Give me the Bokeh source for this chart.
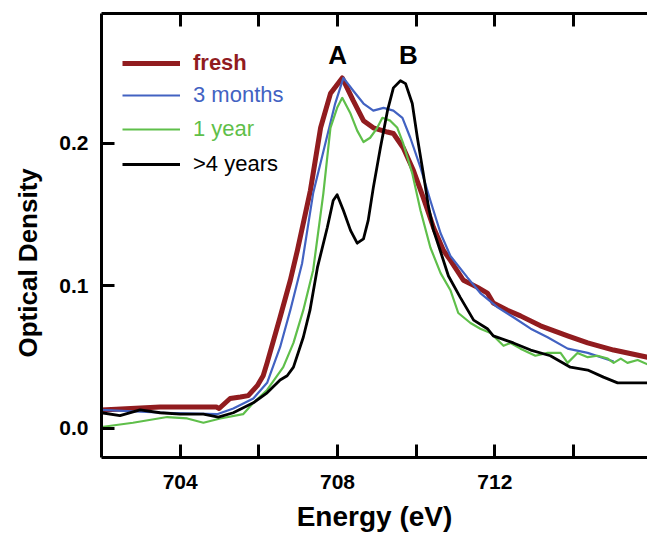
from bokeh.plotting import figure
from bokeh.models import (Range1d, FixedTicker, LinearAxis, Legend, LegendItem,
                          Label, Title, PrintfTickFormatter, CustomLabelingPolicy)
from bokeh.embed import file_html
from bokeh.resources import INLINE

# ---- data ----
fresh_ev = [702.0, 703.49, 704.92, 704.99, 705.27, 705.53, 705.73, 705.96, 706.11, 706.21,
            706.54, 706.80, 706.98, 707.31, 707.57, 707.82, 708.12, 708.40, 708.66, 708.91,
            709.27, 709.42, 709.67, 709.93, 710.18, 710.44, 710.69, 710.87, 711.20, 711.56,
            711.81, 711.96, 712.32, 712.65, 713.16, 713.85, 714.36, 715.02, 715.88]
fresh_od = [0.013, 0.015, 0.015, 0.014, 0.021, 0.022, 0.023, 0.030, 0.037, 0.046,
            0.078, 0.104, 0.125, 0.167, 0.211, 0.235, 0.246, 0.230, 0.216, 0.211,
            0.208, 0.207, 0.197, 0.181, 0.162, 0.141, 0.125, 0.118, 0.104, 0.099,
            0.095, 0.088, 0.083, 0.079, 0.072, 0.065, 0.060, 0.055, 0.050]

months3_ev = [702.0, 703.57, 704.94, 705.35, 705.86, 706.21, 706.54, 706.80, 707.10, 707.38,
              707.69, 707.94, 708.15, 708.40, 708.66, 708.91, 709.17, 709.42, 709.65, 709.85,
              710.11, 710.36, 710.62, 710.87, 711.30, 711.63, 712.07, 712.47, 712.91, 713.34,
              713.85, 714.36, 715.02]
months3_od = [0.013, 0.011, 0.010, 0.014, 0.021, 0.032, 0.057, 0.083, 0.116, 0.165,
              0.200, 0.228, 0.246, 0.237, 0.228, 0.223, 0.225, 0.223, 0.218, 0.204,
              0.183, 0.160, 0.137, 0.121, 0.106, 0.095, 0.085, 0.078, 0.070, 0.064,
              0.056, 0.053, 0.047]

year1_ev = [702.0, 702.80, 703.67, 704.18, 704.59, 705.02, 705.60, 705.86, 706.21, 706.62,
            706.88, 707.13, 707.38, 707.64, 707.82, 707.99, 708.12, 708.33, 708.50, 708.66,
            708.83, 709.01, 709.14, 709.34, 709.52, 709.67, 709.90, 710.11, 710.36, 710.62,
            710.87, 711.07, 711.38, 711.63, 711.89, 712.22, 712.40, 712.65, 713.03, 713.34,
            713.67, 713.85, 714.10, 714.36, 714.61, 714.87, 715.02, 715.20, 715.37, 715.63,
            715.88]
year1_od = [0.001, 0.004, 0.008, 0.007, 0.004, 0.007, 0.010, 0.018, 0.027, 0.043,
            0.060, 0.083, 0.111, 0.165, 0.211, 0.225, 0.232, 0.221, 0.209, 0.201,
            0.204, 0.211, 0.218, 0.216, 0.211, 0.200, 0.179, 0.153, 0.127, 0.109,
            0.097, 0.081, 0.074, 0.070, 0.067, 0.058, 0.060, 0.056, 0.051, 0.053,
            0.053, 0.046, 0.053, 0.050, 0.051, 0.049, 0.046, 0.049, 0.046, 0.048,
            0.045]

years4_ev = [702.0, 702.47, 702.98, 703.49, 704.0, 704.59, 704.97, 705.35, 705.86, 706.21,
             706.54, 706.72, 706.88, 707.13, 707.30, 707.49, 707.74, 707.89, 707.99, 708.15,
             708.33, 708.50, 708.66, 708.78, 708.91, 709.09, 709.27, 709.42, 709.60, 709.73,
             709.90, 710.03, 710.18, 710.31, 710.44, 710.62, 710.82, 711.12, 711.46, 711.81,
             711.96, 712.47, 712.91, 713.41, 713.92, 714.36, 714.76, 715.12, 715.88]
years4_od = [0.011, 0.009, 0.013, 0.011, 0.010, 0.010, 0.008, 0.011, 0.018, 0.025,
             0.034, 0.037, 0.043, 0.064, 0.083, 0.113, 0.141, 0.160, 0.164, 0.153,
             0.139, 0.130, 0.133, 0.146, 0.169, 0.197, 0.223, 0.239, 0.244, 0.242,
             0.228, 0.204, 0.179, 0.156, 0.139, 0.124, 0.107, 0.092, 0.076, 0.070,
             0.065, 0.060, 0.055, 0.051, 0.043, 0.041, 0.036, 0.032, 0.032]

series_labels = ["fresh", "3 months", "1 year", ">4 years"]
x_ticks = [704, 708, 712]
x_minor_ticks = [706, 710, 714]
y_ticks = [0.0, 0.1, 0.2]
peak_labels = ["A", "B"]
peak_ev = [708.0, 709.8]
peak_od = [0.262, 0.262]
x_title = "Energy (eV)"
y_title = "Optical Density"

# ---- styles ----
FONT = "Liberation Sans"
colors = ["#911c1f", "#4262c2", "#5fbf4a", "#000000"]
widths = [5, 2.2, 2.2, 2.8]

p = figure(width=647, height=536, output_backend="svg", toolbar_location=None,
           x_range=Range1d(702.0, 715.88), y_range=Range1d(-0.0204, 0.2912),
           min_border_left=101, min_border_right=0, min_border_top=13, min_border_bottom=79,
           background_fill_color="white", border_fill_color="white")
p.outline_line_color = None
p.xgrid.visible = False
p.ygrid.visible = False

renderers = []
for xs, ys, c, w in zip([fresh_ev, months3_ev, year1_ev, years4_ev],
                        [fresh_od, months3_od, year1_od, years4_od], colors, widths):
    renderers.append(p.line(xs, ys, line_color=c, line_width=w, line_join="round"))

xt = LinearAxis()
p.add_layout(xt, "above")

xb = p.below[0]
yl = p.left[0]

for ax in [xb, xt]:
    ax.ticker = FixedTicker(ticks=x_ticks, minor_ticks=x_minor_ticks)
for ax in [xb, xt, yl]:
    ax.axis_line_width = 3
    ax.axis_line_color = "black"
    ax.major_tick_line_width = 3
    ax.minor_tick_line_width = 3
    ax.major_tick_in = 13
    ax.major_tick_out = 0
    ax.minor_tick_in = 13
    ax.minor_tick_out = 0
    ax.major_label_text_font = FONT
    ax.major_label_text_font_style = "bold"
    ax.major_label_text_font_size = "21px"
    ax.major_label_text_color = "black"
    ax.axis_label_text_font = FONT
    ax.axis_label_text_font_style = "bold"
    ax.axis_label_text_color = "black"

# top axis: frame line and inward ticks only, no labels drawn
no_labels = CustomLabelingPolicy(
    code="for (const i of Array.from(indices)) { indices.unset(i) } return indices")
xt.major_label_text_font_size = "1px"
xt.major_label_standoff = 0
xt.major_label_policy = no_labels

yl.ticker = FixedTicker(ticks=y_ticks, minor_ticks=[])
yl.formatter = PrintfTickFormatter(format="%.1f")
yl.major_label_standoff = 13

xb.major_label_standoff = 17
xb.axis_label = x_title
xb.axis_label_text_font_size = "28px"
xb.axis_label_standoff = 9

# y title: a left-side title (sits below the frame centre and near the outer edge, as in the reference)
p.add_layout(Title(text=y_title, align="left", offset=100, standoff=24,
                   vertical_align="top",
                   text_font=FONT, text_font_style="bold", text_font_size="26px",
                   text_color="black"), "left")

# legend: one block per entry so each label keeps its own colour
legend_y = [381, 349, 315, 280]
styles = ["bold", "normal", "normal", "normal"]
for r, lab, c, st, vy in zip(renderers, series_labels, colors, styles, legend_y):
    lg = Legend(items=[LegendItem(label=lab, renderers=[r])], location=(21, vy),
                glyph_width=58, glyph_height=26, label_height=26, label_standoff=13,
                padding=0, margin=0, spacing=0, border_line_color=None,
                background_fill_alpha=0, label_text_font=FONT,
                label_text_font_size="22px", label_text_color=c,
                label_text_font_style=st)
    p.add_layout(lg)

for t, xv, yv in zip(peak_labels, peak_ev, peak_od):
    p.add_layout(Label(x=xv, y=yv, text=t, text_align="center", text_baseline="middle",
                       text_font=FONT, text_font_style="bold", text_font_size="26px",
                       text_color="black"))

open("out.html", "w").write(file_html(p, INLINE))
